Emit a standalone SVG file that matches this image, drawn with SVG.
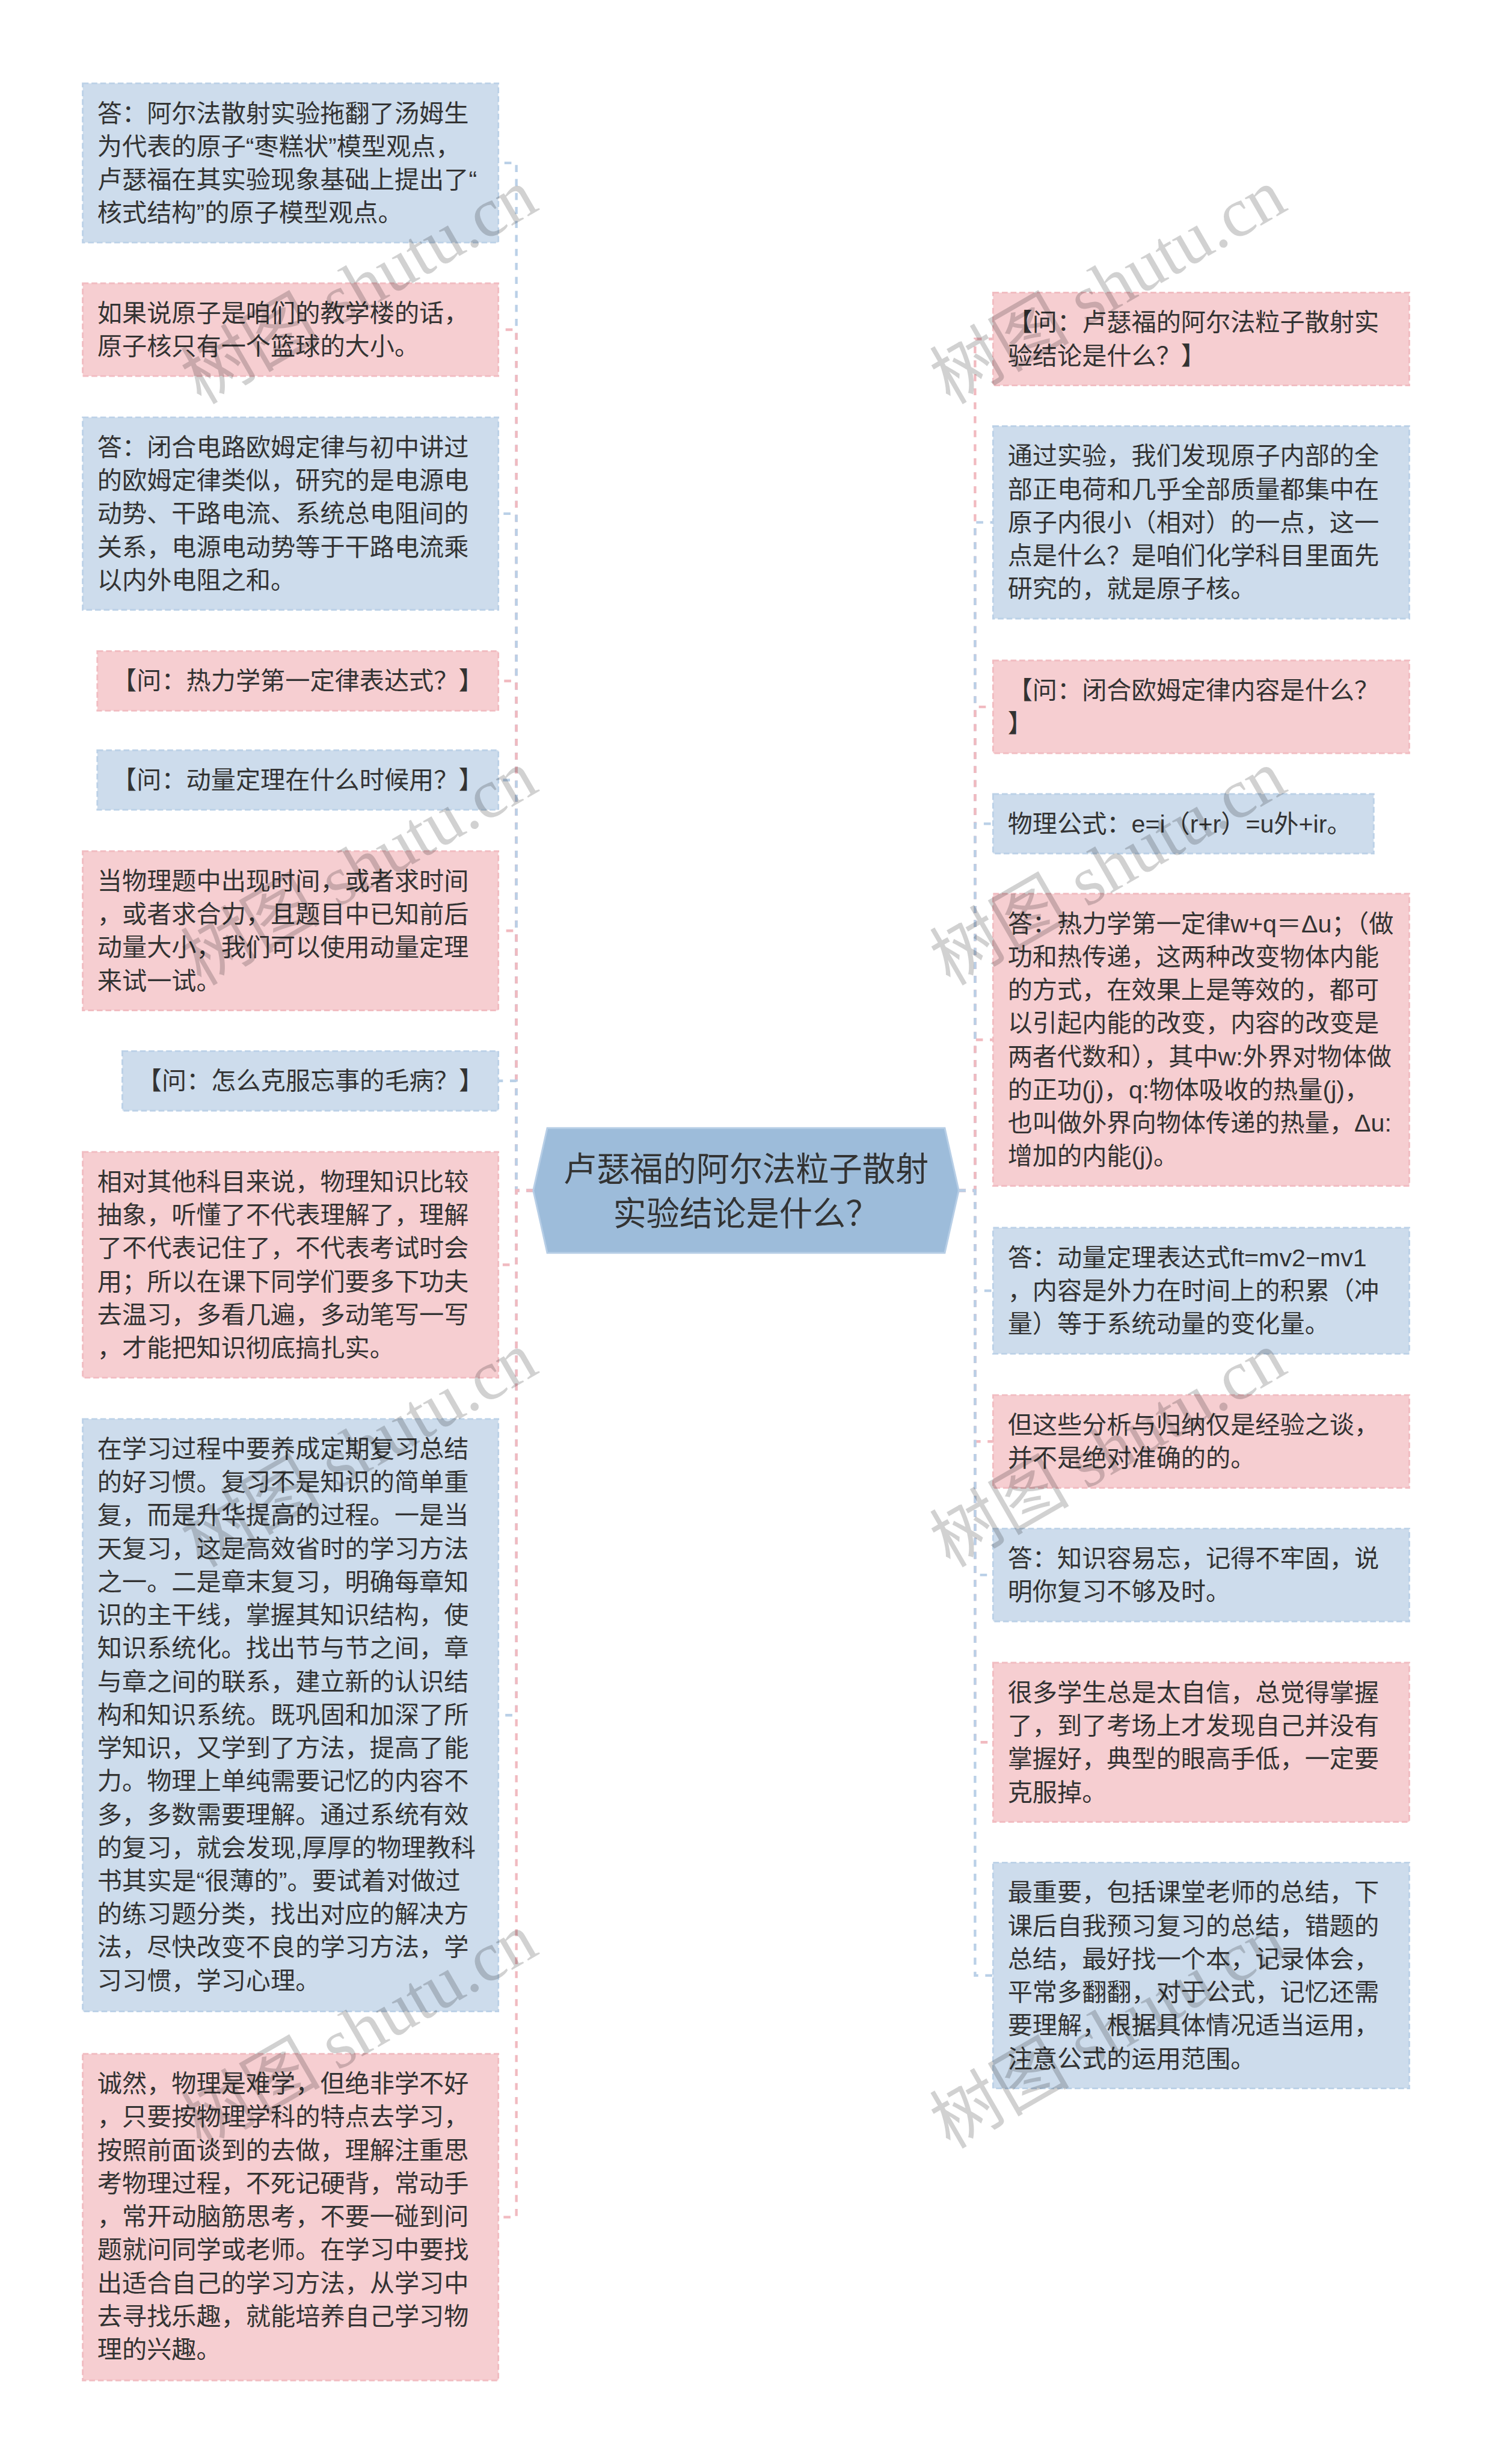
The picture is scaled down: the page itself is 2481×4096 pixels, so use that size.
<svg xmlns="http://www.w3.org/2000/svg" width="2481" height="4096" viewBox="0 0 2481 4096">
<style>
.b rect{fill:#cddcec;stroke:#bcd1e7;stroke-width:3;stroke-dasharray:10 5}
.p rect{fill:#f6ced1;stroke:#f1bcc1;stroke-width:3;stroke-dasharray:10 5}
.n text{font-family:"Liberation Sans","Noto Sans CJK SC",sans-serif;font-size:42.5px;fill:#333}
#links path{fill:none;stroke-width:4.5;stroke-dasharray:12 12}
#links .cb{stroke:#bad0e7}
#links .cp{stroke:#f1bac0}
#center polygon{fill:#9dbcda;stroke:#b7cee6;stroke-width:3}
#center text{font-family:"Liberation Sans","Noto Sans CJK SC",sans-serif;font-size:57px;fill:#333;text-anchor:middle}
.wm text{font-family:"Liberation Serif","Noto Sans CJK SC",serif;font-size:120px;fill:#000;fill-opacity:0.18}
</style>
<rect x="0" y="0" width="2481" height="4096" fill="#ffffff"/>
<g transform="scale(0.969140625)">
<g id="links">
<path class="cb" d="M915 2042 H886 V279.5 H855"/>
<path class="cp" d="M915 2042 H886 V565.5 H855"/>
<path class="cb" d="M915 2042 H886 V881 H855"/>
<path class="cp" d="M915 2042 H886 V1168 H855"/>
<path class="cb" d="M915 2042 H886 V1338 H855"/>
<path class="cp" d="M915 2042 H886 V1596.5 H855"/>
<path class="cb" d="M915 2042 H886 V1854 H855"/>
<path class="cp" d="M915 2042 H886 V2169.5 H855"/>
<path class="cb" d="M915 2042 H886 V2942 H855"/>
<path class="cp" d="M915 2042 H886 V3803 H855"/>
<path class="cp" d="M1645 2042 H1673 V581.5 H1704"/>
<path class="cb" d="M1645 2042 H1673 V896 H1704"/>
<path class="cp" d="M1645 2042 H1673 V1212.5 H1704"/>
<path class="cb" d="M1645 2042 H1673 V1413 H1704"/>
<path class="cp" d="M1645 2042 H1673 V1783.5 H1704"/>
<path class="cb" d="M1645 2042 H1673 V2214 H1704"/>
<path class="cp" d="M1645 2042 H1673 V2472.5 H1704"/>
<path class="cb" d="M1645 2042 H1673 V2701.5 H1704"/>
<path class="cp" d="M1645 2042 H1673 V2988.5 H1704"/>
<path class="cb" d="M1645 2042 H1673 V3388.5 H1704"/>
</g>
<g id="center">
<polygon points="939,1935 1621,1935 1645,2042 1621,2149 939,2149 915,2042"/>
<text x="1280" y="2026"><tspan x="1280">卢瑟福的阿尔法粒子散射</tspan><tspan x="1280" dy="76">实验结论是什么？</tspan></text>
</g>
<g id="L1" class="n b"><rect x="142" y="143" width="713" height="273"/><text x="167" y="209"><tspan x="167">答：阿尔法散射实验拖翻了汤姆生</tspan><tspan x="167" dy="57">为代表的原子“枣糕状”模型观点，</tspan><tspan x="167" dy="57">卢瑟福在其实验现象基础上提出了“</tspan><tspan x="167" dy="57">核式结构”的原子模型观点。</tspan></text></g>
<g id="L2" class="n p"><rect x="142" y="486" width="713" height="159"/><text x="167" y="552"><tspan x="167">如果说原子是咱们的教学楼的话，</tspan><tspan x="167" dy="57">原子核只有一个篮球的大小。</tspan></text></g>
<g id="L3" class="n b"><rect x="142" y="716" width="713" height="330"/><text x="167" y="782"><tspan x="167">答：闭合电路欧姆定律与初中讲过</tspan><tspan x="167" dy="57">的欧姆定律类似，研究的是电源电</tspan><tspan x="167" dy="57">动势、干路电流、系统总电阻间的</tspan><tspan x="167" dy="57">关系，电源电动势等于干路电流乘</tspan><tspan x="167" dy="57">以内外电阻之和。</tspan></text></g>
<g id="L4" class="n p"><rect x="167" y="1117" width="688" height="102"/><text x="192" y="1183">【问：热力学第一定律表达式？】</text></g>
<g id="L5" class="n b"><rect x="167" y="1287" width="688" height="102"/><text x="192" y="1353">【问：动量定理在什么时候用？】</text></g>
<g id="L6" class="n p"><rect x="142" y="1460" width="713" height="273"/><text x="167" y="1526"><tspan x="167">当物理题中出现时间，或者求时间</tspan><tspan x="167" dy="57">，或者求合力，且题目中已知前后</tspan><tspan x="167" dy="57">动量大小，我们可以使用动量定理</tspan><tspan x="167" dy="57">来试一试。</tspan></text></g>
<g id="L7" class="n b"><rect x="210" y="1803" width="645" height="102"/><text x="235" y="1869">【问：怎么克服忘事的毛病？】</text></g>
<g id="L8" class="n p"><rect x="142" y="1976" width="713" height="387"/><text x="167" y="2042"><tspan x="167">相对其他科目来说，物理知识比较</tspan><tspan x="167" dy="57">抽象，听懂了不代表理解了，理解</tspan><tspan x="167" dy="57">了不代表记住了，不代表考试时会</tspan><tspan x="167" dy="57">用；所以在课下同学们要多下功夫</tspan><tspan x="167" dy="57">去温习，多看几遍，多动笔写一写</tspan><tspan x="167" dy="57">，才能把知识彻底搞扎实。</tspan></text></g>
<g id="L9" class="n b"><rect x="142" y="2434" width="713" height="1016"/><text x="167" y="2500"><tspan x="167">在学习过程中要养成定期复习总结</tspan><tspan x="167" dy="57">的好习惯。复习不是知识的简单重</tspan><tspan x="167" dy="57">复，而是升华提高的过程。一是当</tspan><tspan x="167" dy="57">天复习，这是高效省时的学习方法</tspan><tspan x="167" dy="57">之一。二是章末复习，明确每章知</tspan><tspan x="167" dy="57">识的主干线，掌握其知识结构，使</tspan><tspan x="167" dy="57">知识系统化。找出节与节之间，章</tspan><tspan x="167" dy="57">与章之间的联系，建立新的认识结</tspan><tspan x="167" dy="57">构和知识系统。既巩固和加深了所</tspan><tspan x="167" dy="57">学知识，又学到了方法，提高了能</tspan><tspan x="167" dy="57">力。物理上单纯需要记忆的内容不</tspan><tspan x="167" dy="57">多，多数需要理解。通过系统有效</tspan><tspan x="167" dy="57">的复习，就会发现,厚厚的物理教科</tspan><tspan x="167" dy="57">书其实是“很薄的”。要试着对做过</tspan><tspan x="167" dy="57">的练习题分类，找出对应的解决方</tspan><tspan x="167" dy="57">法，尽快改变不良的学习方法，学</tspan><tspan x="167" dy="57">习习惯，学习心理。</tspan></text></g>
<g id="L10" class="n p"><rect x="142" y="3523" width="713" height="560"/><text x="167" y="3589"><tspan x="167">诚然，物理是难学，但绝非学不好</tspan><tspan x="167" dy="57">，只要按物理学科的特点去学习，</tspan><tspan x="167" dy="57">按照前面谈到的去做，理解注重思</tspan><tspan x="167" dy="57">考物理过程，不死记硬背，常动手</tspan><tspan x="167" dy="57">，常开动脑筋思考，不要一碰到问</tspan><tspan x="167" dy="57">题就问同学或老师。在学习中要找</tspan><tspan x="167" dy="57">出适合自己的学习方法，从学习中</tspan><tspan x="167" dy="57">去寻找乐趣，就能培养自己学习物</tspan><tspan x="167" dy="57">理的兴趣。</tspan></text></g>
<g id="R1" class="n p"><rect x="1704" y="502" width="714" height="159"/><text x="1729" y="568"><tspan x="1729">【问：卢瑟福的阿尔法粒子散射实</tspan><tspan x="1729" dy="57">验结论是什么？】</tspan></text></g>
<g id="R2" class="n b"><rect x="1704" y="731" width="714" height="330"/><text x="1729" y="797"><tspan x="1729">通过实验，我们发现原子内部的全</tspan><tspan x="1729" dy="57">部正电荷和几乎全部质量都集中在</tspan><tspan x="1729" dy="57">原子内很小（相对）的一点，这一</tspan><tspan x="1729" dy="57">点是什么？是咱们化学科目里面先</tspan><tspan x="1729" dy="57">研究的，就是原子核。</tspan></text></g>
<g id="R3" class="n p"><rect x="1704" y="1133" width="714" height="159"/><text x="1729" y="1199"><tspan x="1729">【问：闭合欧姆定律内容是什么？</tspan><tspan x="1729" dy="57">】</tspan></text></g>
<g id="R4" class="n b"><rect x="1704" y="1362" width="653" height="102"/><text x="1729" y="1428">物理公式：e=i（r+r）=u外+ir。</text></g>
<g id="R5" class="n p"><rect x="1704" y="1533" width="714" height="501"/><text x="1729" y="1599"><tspan x="1729">答：热力学第一定律w+q＝Δu；（做</tspan><tspan x="1729" dy="57">功和热传递，这两种改变物体内能</tspan><tspan x="1729" dy="57">的方式，在效果上是等效的，都可</tspan><tspan x="1729" dy="57">以引起内能的改变，内容的改变是</tspan><tspan x="1729" dy="57">两者代数和），其中w:外界对物体做</tspan><tspan x="1729" dy="57">的正功(j)，q:物体吸收的热量(j)，</tspan><tspan x="1729" dy="57">也叫做外界向物体传递的热量，Δu:</tspan><tspan x="1729" dy="57">增加的内能(j)。</tspan></text></g>
<g id="R6" class="n b"><rect x="1704" y="2106" width="714" height="216"/><text x="1729" y="2172"><tspan x="1729">答：动量定理表达式ft=mv2−mv1</tspan><tspan x="1729" dy="57">，内容是外力在时间上的积累（冲</tspan><tspan x="1729" dy="57">量）等于系统动量的变化量。</tspan></text></g>
<g id="R7" class="n p"><rect x="1704" y="2393" width="714" height="159"/><text x="1729" y="2459"><tspan x="1729">但这些分析与归纳仅是经验之谈，</tspan><tspan x="1729" dy="57">并不是绝对准确的的。</tspan></text></g>
<g id="R8" class="n b"><rect x="1704" y="2622" width="714" height="159"/><text x="1729" y="2688"><tspan x="1729">答：知识容易忘，记得不牢固，说</tspan><tspan x="1729" dy="57">明你复习不够及时。</tspan></text></g>
<g id="R9" class="n p"><rect x="1704" y="2852" width="714" height="273"/><text x="1729" y="2918"><tspan x="1729">很多学生总是太自信，总觉得掌握</tspan><tspan x="1729" dy="57">了，到了考场上才发现自己并没有</tspan><tspan x="1729" dy="57">掌握好，典型的眼高手低，一定要</tspan><tspan x="1729" dy="57">克服掉。</tspan></text></g>
<g id="R10" class="n b"><rect x="1704" y="3195" width="714" height="387"/><text x="1729" y="3261"><tspan x="1729">最重要，包括课堂老师的总结，下</tspan><tspan x="1729" dy="57">课后自我预习复习的总结，错题的</tspan><tspan x="1729" dy="57">总结，最好找一个本，记录体会，</tspan><tspan x="1729" dy="57">平常多翻翻，对于公式，记忆还需</tspan><tspan x="1729" dy="57">要理解，根据具体情况适当运用，</tspan><tspan x="1729" dy="57">注意公式的运用范围。</tspan></text></g>
<g class="wm">
<text transform="translate(345 695) rotate(-30)">树图 shutu.cn</text>
<text transform="translate(1630 695) rotate(-30)">树图 shutu.cn</text>
<text transform="translate(345 1692) rotate(-30)">树图 shutu.cn</text>
<text transform="translate(1630 1692) rotate(-30)">树图 shutu.cn</text>
<text transform="translate(345 2690) rotate(-30)">树图 shutu.cn</text>
<text transform="translate(1630 2690) rotate(-30)">树图 shutu.cn</text>
<text transform="translate(345 3687) rotate(-30)">树图 shutu.cn</text>
<text transform="translate(1630 3687) rotate(-30)">树图 shutu.cn</text>
</g>
</g>
</svg>
